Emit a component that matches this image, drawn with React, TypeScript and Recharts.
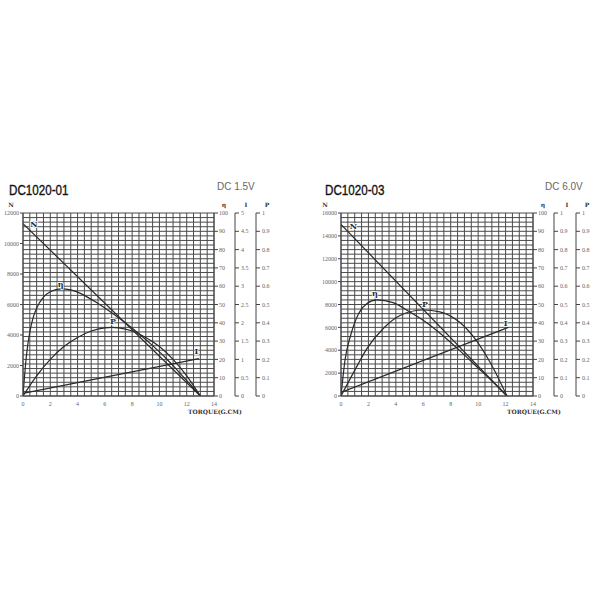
import React from 'react';
import { ComposedChart, Line, XAxis, YAxis, CartesianGrid, ReferenceDot } from 'recharts';

// grid: every 0.5 g.cm across, every 2.5 % up
const gridX = Array.from({ length: 29 }, (_, i) => i * 0.5);
const gridY = Array.from({ length: 41 }, (_, i) => i * 2.5);

const torqueTicks = [0, 2, 4, 6, 8, 10, 12, 14];
const etaTicks = [0, 10, 20, 30, 40, 50, 60, 70, 80, 90, 100];
const pTicks = [0, 0.1, 0.2, 0.3, 0.4, 0.5, 0.6, 0.7, 0.8, 0.9, 1];

// DC1020-01, DC 1.5V
const speedTicks01 = [0, 2000, 4000, 6000, 8000, 10000, 12000];
const currentTicks01 = [0, 0.5, 1, 1.5, 2, 2.5, 3, 3.5, 4, 4.5, 5];
const speed01 = [{ t: 0, v: 11300 }, { t: 13, v: 0 }];
const eff01 = [
  { t: 0, v: 0 }, { t: 0.25, v: 22 }, { t: 0.5, v: 35 }, { t: 0.75, v: 43 },
  { t: 1, v: 48 }, { t: 1.5, v: 54 }, { t: 2, v: 57 }, { t: 2.8, v: 58.5 },
  { t: 3.5, v: 58 }, { t: 4.5, v: 55 }, { t: 5.5, v: 50.5 }, { t: 6.5, v: 45.5 },
  { t: 7.5, v: 40 }, { t: 8.5, v: 34 }, { t: 9.5, v: 27.5 }, { t: 10.5, v: 20.5 },
  { t: 11.5, v: 12.5 }, { t: 12.3, v: 6 }, { t: 13, v: 0 },
];
const current01 = [{ t: 0, v: 0.07 }, { t: 12.9, v: 1.02 }];
const power01 = [
  { t: 0, v: 0 }, { t: 1, v: 0.11 }, { t: 2, v: 0.2 }, { t: 3, v: 0.27 },
  { t: 4, v: 0.32 }, { t: 5, v: 0.355 }, { t: 6, v: 0.372 }, { t: 6.5, v: 0.375 },
  { t: 7, v: 0.372 }, { t: 8, v: 0.355 }, { t: 9, v: 0.32 }, { t: 10, v: 0.27 },
  { t: 11, v: 0.2 }, { t: 12, v: 0.11 }, { t: 13, v: 0 },
];

// DC1020-03, DC 6.0V
const speedTicks03 = [0, 2000, 4000, 6000, 8000, 10000, 12000, 14000, 16000];
const currentTicks03 = [0, 0.1, 0.2, 0.3, 0.4, 0.5, 0.6, 0.7, 0.8, 0.9, 1];
const speed03 = [{ t: 0, v: 15000 }, { t: 12.1, v: 0 }];
const eff03 = [
  { t: 0, v: 0 }, { t: 0.3, v: 20 }, { t: 0.68, v: 32.5 }, { t: 1.28, v: 45 },
  { t: 1.89, v: 50.5 }, { t: 2.6, v: 52.5 }, { t: 3.8, v: 51 }, { t: 5, v: 46 },
  { t: 6.25, v: 40 }, { t: 7.5, v: 32.5 }, { t: 8.7, v: 24.5 }, { t: 9.9, v: 16 },
  { t: 11.1, v: 7.5 }, { t: 12.1, v: 0 },
];
const current03 = [{ t: 0, v: 0.02 }, { t: 12.2, v: 0.375 }];
const power03 = [
  { t: 0, v: 0 }, { t: 1, v: 0.14 }, { t: 1.9, v: 0.26 }, { t: 3.1, v: 0.37 },
  { t: 4.3, v: 0.44 }, { t: 6, v: 0.47 }, { t: 7.2, v: 0.46 }, { t: 8.7, v: 0.4 },
  { t: 9.9, v: 0.3 }, { t: 10.9, v: 0.18 }, { t: 12.1, v: 0 },
];

const INK = '#2a2a2a';
const tickStyle = { fontSize: 6, fill: '#666', fontFamily: 'Liberation Serif' };

type Pt = { t: number; v: number };

interface MotorChartProps {
  left: number;
  title: string;
  volts: string;
  nMax: number;
  nTicks: number[];
  iMax: number;
  iTicks: number[];
  speed: Pt[];
  eff: Pt[];
  current: Pt[];
  power: Pt[];
  tags: Array<{ text: string; t: number; n: number }>;
  leftWidth: number;
  rightMargin: number;
  iWidth: number;
  heads: number[];
  titleX: number;
  voltsX: number;
  torqueX: number;
}

// curve name written on the chart, with a white halo over the grid
function Tag({ cx, cy, text }: any) {
  return (
    <text x={cx} y={cy} textAnchor="middle" dominantBaseline="central" fontSize={8} fontWeight="bold"
      fontFamily="DejaVu Serif" fill={INK} stroke="#fff" strokeWidth={1.5} paintOrder="stroke">
      {text}
    </text>
  );
}

function MotorChart(p: MotorChartProps) {
  const head = (txt: string, x: number) => (
    <div style={{ position: 'absolute', left: x - 10, width: 20, top: 21, textAlign: 'center', fontSize: 6, fontWeight: 'bold', fontFamily: 'DejaVu Serif', color: '#333' }}>{txt}</div>
  );
  return (
    <div style={{ position: 'absolute', left: p.left, top: 180, width: 300, height: 240 }}>
      <div style={{ position: 'absolute', left: p.titleX, top: 2, fontSize: 14, fontFamily: 'Liberation Sans', color: '#111', WebkitTextStroke: '0.35px #111', transform: 'scaleX(0.83)', transformOrigin: 'left', whiteSpace: 'nowrap' }}>{p.title}</div>
      <div style={{ position: 'absolute', left: p.voltsX, top: 1, fontSize: 10, fontFamily: 'Liberation Sans', color: '#666', whiteSpace: 'nowrap' }}>{p.volts}</div>
      {head('N', p.heads[0])}
      {head('η', p.heads[1])}
      {head('I', p.heads[2])}
      {head('P', p.heads[3])}
      <div style={{ position: 'absolute', left: 0, top: 20 }}>
        <ComposedChart width={300} height={220} margin={{ top: 13, right: p.rightMargin, bottom: 6, left: 0 }}>
          <CartesianGrid
            yAxisId="eta"
            stroke="#4a4a4a"
            strokeWidth={1}
            verticalCoordinatesGenerator={({ offset }: any) => gridX.map((v) => offset.left + (offset.width * v) / 14)}
            horizontalCoordinatesGenerator={({ offset }: any) => gridY.map((v) => offset.top + offset.height * (1 - v / 100))}
          />
          <XAxis
            type="number"
            dataKey="t"
            domain={[0, 14]}
            ticks={torqueTicks}
            allowDataOverflow
            height={18}
            tickLine={false}
            axisLine={{ stroke: '#444' }}
            tickSize={4}
            tickMargin={2}
            tick={tickStyle}
          />
          <YAxis yAxisId="n" orientation="left" type="number" domain={[0, p.nMax]} ticks={p.nTicks} width={p.leftWidth}
            axisLine={{ stroke: '#444' }} tickLine={{ stroke: '#444' }} tickSize={3} tickMargin={1} tick={tickStyle} allowDataOverflow />
          <YAxis yAxisId="eta" orientation="right" type="number" domain={[0, 100]} ticks={etaTicks} width={21}
            axisLine={{ stroke: '#444' }} tickLine={{ stroke: '#444' }} tickSize={4} tickMargin={1} tick={tickStyle} allowDataOverflow />
          <YAxis yAxisId="i" orientation="right" type="number" domain={[0, p.iMax]} ticks={p.iTicks} width={p.iWidth}
            axisLine={{ stroke: '#444' }} tickLine={{ stroke: '#444' }} tickSize={4} tickMargin={2} tick={tickStyle} allowDataOverflow />
          <YAxis yAxisId="p" orientation="right" type="number" domain={[0, 1]} ticks={pTicks} width={20}
            axisLine={{ stroke: '#444' }} tickLine={{ stroke: '#444' }} tickSize={4} tickMargin={2} tick={tickStyle} allowDataOverflow />

          <Line data={p.speed} yAxisId="n" dataKey="v" type="linear" stroke={INK} strokeWidth={1.2} dot={false} isAnimationActive={false} />
          <Line data={p.eff} yAxisId="eta" dataKey="v" type="monotone" stroke={INK} strokeWidth={1.2} dot={false} isAnimationActive={false} />
          <Line data={p.current} yAxisId="i" dataKey="v" type="linear" stroke={INK} strokeWidth={1.2} dot={false} isAnimationActive={false} />
          <Line data={p.power} yAxisId="p" dataKey="v" type="monotone" stroke={INK} strokeWidth={1.2} dot={false} isAnimationActive={false} />

          {p.tags.map((tg) => (
            <ReferenceDot key={tg.text} x={tg.t} y={tg.n} yAxisId="n" r={0}
              shape={(props: any) => <Tag {...props} text={tg.text} />} />
          ))}
        </ComposedChart>
      </div>
      <div style={{ position: 'absolute', left: p.torqueX, top: 228, fontSize: 6, fontWeight: 'bold', fontFamily: 'DejaVu Serif', color: '#333', whiteSpace: 'nowrap' }}>
        TORQUE(G.CM)
      </div>
    </div>
  );
}

export default function App() {
  return (
    <div style={{ position: 'absolute', left: 0, top: 0, width: 600, height: 600, background: '#fff' }}>
      <MotorChart
        left={0}
        title="DC1020-01"
        volts="DC 1.5V"
        nMax={12000}
        nTicks={speedTicks01}
        iMax={5}
        iTicks={currentTicks01}
        speed={speed01}
        eff={eff01}
        current={current01}
        power={power01}
        tags={[
          { text: 'N', t: 0.8, n: 11300 },
          { text: 'η', t: 2.76, n: 7350 },
          { text: 'P', t: 6.6, n: 4900 },
          { text: 'I', t: 12.7, n: 2950 },
        ]}
        leftWidth={23}
        rightMargin={24}
        iWidth={21}
        heads={[11, 224, 246, 267]}
        titleX={9}
        voltsX={217}
        torqueX={188}
      />
      <MotorChart
        left={300}
        title="DC1020-03"
        volts="DC 6.0V"
        nMax={16000}
        nTicks={speedTicks03}
        iMax={1}
        iTicks={currentTicks03}
        speed={speed03}
        eff={eff03}
        current={current03}
        power={power03}
        tags={[
          { text: 'N', t: 0.9, n: 14900 },
          { text: 'η', t: 2.48, n: 9000 },
          { text: 'P', t: 6.13, n: 8050 },
          { text: 'I', t: 12.0, n: 6400 },
        ]}
        leftWidth={41}
        rightMargin={4}
        iWidth={22}
        heads={[25, 243, 267, 287]}
        titleX={25}
        voltsX={245}
        torqueX={207}
      />
    </div>
  );
}
